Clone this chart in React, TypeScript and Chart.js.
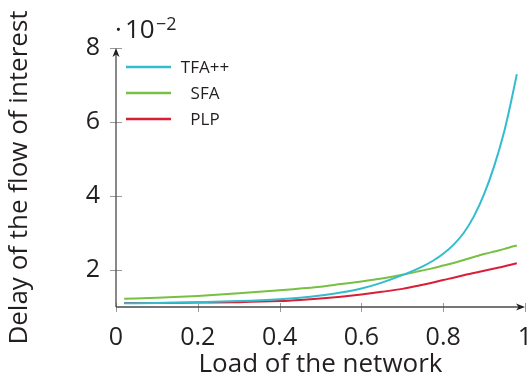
import React, { useEffect, useRef } from "react";
import { Chart, registerables } from "chart.js";

Chart.register(...registerables);

const loads = [0.02, 0.1, 0.2, 0.3, 0.4, 0.45, 0.5, 0.55, 0.6, 0.65, 0.7, 0.75, 0.775, 0.8, 0.825, 0.85, 0.875, 0.9, 0.925, 0.95, 0.965, 0.98];
const tfaDelay = [1.1, 1.11, 1.13, 1.16, 1.21, 1.25, 1.31, 1.39, 1.5, 1.66, 1.86, 2.1, 2.25, 2.44, 2.68, 3.0, 3.45, 4.05, 4.82, 5.78, 6.5, 7.29];
const sfaDelay = [1.22, 1.25, 1.3, 1.37, 1.45, 1.5, 1.55, 1.62, 1.69, 1.77, 1.87, 1.99, 2.05, 2.12, 2.19, 2.27, 2.35, 2.43, 2.5, 2.57, 2.62, 2.66];
const plpDelay = [1.11, 1.11, 1.12, 1.13, 1.16, 1.19, 1.23, 1.28, 1.34, 1.41, 1.49, 1.6, 1.66, 1.73, 1.79, 1.86, 1.92, 1.98, 2.04, 2.1, 2.14, 2.18];
const seriesNames = ["TFA++", "SFA", "PLP"];
const seriesColors = ["#33bccd", "#77c043", "#d91e36"];
const xTicks = [0, 0.2, 0.4, 0.6, 0.8, 1];
const yTicks = [2, 4, 6, 8];

const FONT = "'Open Sans', 'DejaVu Sans', sans-serif";
const TEXT = "#231f20";

const decorPlugin = {
  id: "decor",
  afterDraw(chart: any) {
    const ctx = chart.ctx;
    const { left, right, top, bottom } = chart.chartArea;
    const xs = chart.scales.x;
    const ys = chart.scales.y;
    ctx.save();
    ctx.strokeStyle = "#9a9a9a";
    ctx.lineWidth = 1;
    xs.ticks.forEach((t: any) => {
      const px = Math.round(xs.getPixelForValue(t.value)) + 0.5;
      ctx.beginPath();
      ctx.moveTo(px, bottom - 4);
      ctx.lineTo(px, bottom + 5);
      ctx.stroke();
    });
    ys.ticks.forEach((t: any) => {
      const py = Math.round(ys.getPixelForValue(t.value)) + 0.5;
      ctx.beginPath();
      ctx.moveTo(left - 6, py);
      ctx.lineTo(left + 6, py);
      ctx.stroke();
    });
    ctx.strokeStyle = "#4a4a4a";
    ctx.lineWidth = 1.3;
    ctx.beginPath();
    ctx.moveTo(left, bottom);
    ctx.lineTo(left, top + 2);
    ctx.moveTo(left, bottom);
    ctx.lineTo(right - 2, bottom);
    ctx.stroke();
    ctx.fillStyle = "#231f20";
    ctx.beginPath();
    ctx.moveTo(left, top);
    ctx.lineTo(left - 3.5, top + 9);
    ctx.lineTo(left, top + 6.5);
    ctx.lineTo(left + 3.5, top + 9);
    ctx.closePath();
    ctx.fill();
    ctx.beginPath();
    ctx.moveTo(right, bottom);
    ctx.lineTo(right - 9, bottom - 3.5);
    ctx.lineTo(right - 6.5, bottom);
    ctx.lineTo(right - 9, bottom + 3.5);
    ctx.closePath();
    ctx.fill();
    ctx.fillStyle = TEXT;
    ctx.textBaseline = "alphabetic";
    ctx.textAlign = "left";
    ctx.font = "26px " + FONT;
    ctx.fillText("·", 115, 38);
    ctx.fillText("10", 125, 38);
    ctx.font = "18px " + FONT;
    ctx.fillText("−2", 156, 30);
    chart.data.datasets.forEach((ds: any, i: number) => {
      const y = 67 + i * 26;
      ctx.strokeStyle = ds.borderColor;
      ctx.lineWidth = 2.5;
      ctx.beginPath();
      ctx.moveTo(126, y);
      ctx.lineTo(171, y);
      ctx.stroke();
      ctx.fillStyle = TEXT;
      ctx.font = "17px " + FONT;
      ctx.textAlign = "center";
      ctx.textBaseline = "middle";
      ctx.fillText(ds.label, 205, y + 1);
    });
    ctx.restore();
  },
};

export default function App() {
  const ref = useRef<HTMLCanvasElement | null>(null);
  useEffect(() => {
    if (!ref.current) return;
    const datasets = [tfaDelay, sfaDelay, plpDelay].map((vals, i) => ({
      label: seriesNames[i],
      data: loads.map((x, j) => ({ x, y: vals[j] })),
      borderColor: seriesColors[i],
      backgroundColor: seriesColors[i],
      borderWidth: 2,
      pointRadius: 0,
      cubicInterpolationMode: "monotone" as const,
      fill: false,
    }));
    const chart = new Chart(ref.current, {
      type: "line",
      data: { datasets },
      plugins: [decorPlugin],
      options: {
        animation: false,
        responsive: false,
        devicePixelRatio: 1,
        layout: { padding: { top: 48, right: 6, left: 0, bottom: 0 } },
        plugins: { legend: { display: false }, tooltip: { enabled: false } },
        scales: {
          x: {
            type: "linear",
            min: 0,
            max: 1,
            afterBuildTicks: (s: any) => {
              s.ticks = xTicks.map((v) => ({ value: v }));
            },
            afterFit: (s: any) => {
              s.height = 74;
              s.paddingLeft = 0;
              s.paddingRight = 0;
            },
            grid: { display: false, drawTicks: false },
            border: { display: false },
            ticks: {
              color: TEXT,
              font: { family: FONT, size: 25 },
              padding: 16,
              maxRotation: 0,
              autoSkip: false,
              callback: (v: any) => String(v),
            },
            title: {
              display: true,
              text: "Load of the network",
              color: TEXT,
              font: { family: FONT, size: 26 },
              padding: { top: 0, bottom: 1 },
            },
          },
          y: {
            type: "linear",
            min: 1,
            max: 8,
            afterBuildTicks: (s: any) => {
              s.ticks = yTicks.map((v) => ({ value: v }));
            },
            afterFit: (s: any) => {
              s.width = 116;
              s.paddingTop = 0;
              s.paddingBottom = 0;
            },
            grid: { display: false, drawTicks: false },
            border: { display: false },
            ticks: { color: TEXT, font: { family: FONT, size: 25 }, padding: 16, callback: (v: any) => String(v) },
            title: {
              display: true,
              text: "Delay of the flow of interest",
              color: TEXT,
              font: { family: FONT, size: 26 },
              padding: { top: 4, bottom: 0 },
            },
          },
        },
      },
    });
    return () => chart.destroy();
  }, []);
  return (
    <canvas
      ref={ref}
      width={531}
      height={381}
      style={{ position: "absolute", left: 0, top: 0, width: 531, height: 381 }}
    />
  );
}
